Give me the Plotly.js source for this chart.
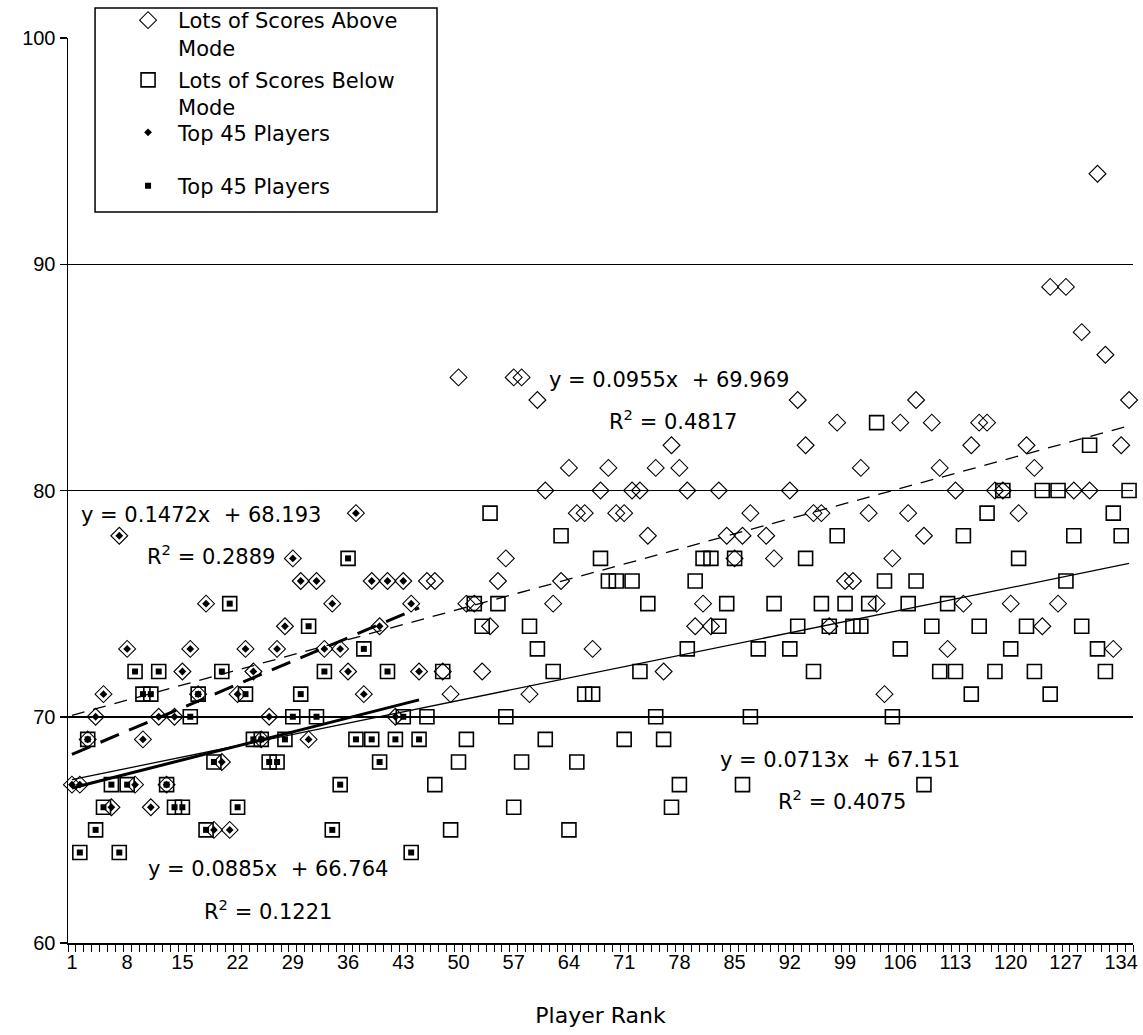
<!DOCTYPE html>
<html>
<head>
<meta charset="utf-8">
<script src="https://cdn.plot.ly/plotly-3.0.1.min.js"></script>
<style>html,body{margin:0;padding:0;background:#fff;}#chart{width:1143px;height:1035px;}</style>
</head>
<body>
<div id="chart"></div>
<script>
// Player rank categories 1..135
const rankCount = 135;
const ranks = [];
for (let i = 1; i <= rankCount; i++) ranks.push(i);

// Scores, one per rank (null = not read)
const aboveScore = [
  67,67,69,70,71,66,78,73,67,69,
  66,70,67,70,72,73,71,75,65,68,
  65,71,73,72,69,70,73,74,77,76,
  69,76,73,75,73,72,79,71,76,74,
  76,70,76,75,72,76,76,72,71,85,
  75,75,72,74,76,77,85,85,71,84,
  80,75,76,81,79,79,73,80,81,79,
  79,80,80,78,81,72,82,81,80,74,
  75,74,80,78,77,78,79,null,78,77,
  null,80,84,82,79,79,74,83,76,76,
  81,79,75,71,77,83,79,84,78,83,
  81,73,80,75,82,83,83,80,80,75,
  79,82,81,74,89,75,89,80,87,80,
  94,86,73,82,84
];
const belowScore = [
  null,64,69,65,66,67,64,67,72,71,
  71,72,67,66,66,70,71,65,68,72,
  75,66,71,69,69,68,68,69,70,71,
  74,70,72,65,67,77,69,73,69,68,
  72,69,70,64,69,70,67,72,65,68,
  69,75,74,79,75,70,66,68,74,73,
  69,72,78,65,68,71,71,77,76,76,
  69,76,72,75,70,69,66,67,73,76,
  77,77,74,75,77,67,70,73,null,75,
  null,73,74,77,72,75,74,78,75,74,
  74,75,83,76,70,73,75,76,67,74,
  72,75,72,78,71,74,79,72,80,73,
  77,74,72,80,71,80,76,78,74,82,
  73,72,79,78,80
];
const topCount = 45;
const topRanks = ranks.slice(0, topCount);
const topAbove = aboveScore.slice(0, topCount);
const topBelow = belowScore.slice(0, topCount);

// Linear trendlines (Excel): slope, intercept, R^2, x-range
const fitSlope = [0.0955, 0.0713, 0.1472, 0.0885];
const fitIntercept = [69.969, 67.151, 68.193, 66.764];
const fitR2 = ['0.4817', '0.4075', '0.2889', '0.1221'];
const fitEqText = ['y = 0.0955x  + 69.969', 'y = 0.0713x  + 67.151', 'y = 0.1472x  + 68.193', 'y = 0.0885x  + 66.764'];
const fitStart = [1, 1, 1, 1];
const fitEnd = [135, 135, 45, 45];

// x tick labels
const xTickVals = [1,8,15,22,29,36,43,50,57,64,71,78,85,92,99,106,113,120,127,134];
const xTickText = xTickVals.map(String);

const FONT = 'Liberation Sans, Arial, sans-serif';
const WFONT = 'DejaVu Sans, Verdana, sans-serif';

function fitLine(i) {
  const xs = [fitStart[i], fitEnd[i]];
  return { xs: xs, ys: xs.map(x => fitSlope[i] * x + fitIntercept[i]) };
}

const lineStyles = [
  {width: 1.3, dash: '13px,9px'},
  {width: 1.3, dash: 'solid'},
  {width: 3, dash: '20px,11px'},
  {width: 3, dash: 'solid'}
];

const traces = [];
traces.push({
  x: ranks, y: aboveScore, type: 'scatter', mode: 'markers',
  name: 'Lots of Scores Above<br>Mode', legend: 'legend',
  marker: {symbol: 'diamond-open', size: 13, color: '#000', line: {width: 1.1, color: '#000'}},
  cliponaxis: false
});
traces.push({
  x: ranks, y: belowScore, type: 'scatter', mode: 'markers',
  name: 'Lots of Scores Below<br>Mode', legend: 'legend2',
  marker: {symbol: 'square-open', size: 14, color: '#000', line: {width: 1.6, color: '#000'}},
  cliponaxis: false
});
traces.push({
  x: topRanks, y: topAbove, type: 'scatter', mode: 'markers',
  name: 'Top 45 Players', legend: 'legend3',
  marker: {symbol: 'diamond', size: 6, color: '#000'}
});
traces.push({
  x: topRanks, y: topBelow, type: 'scatter', mode: 'markers',
  name: 'Top 45 Players', legend: 'legend4',
  marker: {symbol: 'square', size: 6, color: '#000'}
});
for (let i = 0; i < 4; i++) {
  const f = fitLine(i);
  traces.push({
    x: f.xs, y: f.ys, type: 'scatter', mode: 'lines', showlegend: false,
    hoverinfo: 'skip',
    line: {color: '#000', width: lineStyles[i].width, dash: lineStyles[i].dash}
  });
}

// equation label placement (data coords)
const eqPos = [
  {x: 76.7, y: 84.9, rx: 77.2, ry: 83.1},
  {x: 98.3, y: 68.1, rx: 98.6, ry: 66.3},
  {x: 17.4, y: 78.9, rx: 18.6, ry: 77.15},
  {x: 25.9, y: 63.25, rx: 25.9, ry: 61.45}
];
const annotations = [];
for (let i = 0; i < 4; i++) {
  annotations.push({x: eqPos[i].x, y: eqPos[i].y, xref: 'x', yref: 'y', text: fitEqText[i],
    showarrow: false, font: {family: WFONT, size: 21, color: '#000'}, xanchor: 'center', yanchor: 'middle'});
  annotations.push({x: eqPos[i].rx, y: eqPos[i].ry, xref: 'x', yref: 'y', text: 'R<sup>2</sup> = ' + fitR2[i],
    showarrow: false, font: {family: WFONT, size: 21, color: '#000'}, xanchor: 'center', yanchor: 'middle'});
}

function legendBox(ytop) {
  return {
    x: 0.047, y: ytop, xanchor: 'left', yanchor: 'top',
    bgcolor: 'rgba(0,0,0,0)', borderwidth: 0, itemwidth: 50, valign: 'top',
    font: {family: WFONT, size: 21, color: '#000'}
  };
}

const layout = {
  width: 1143, height: 1035,
  margin: {l: 68, r: 10, t: 38, b: 92, autoexpand: false},
  paper_bgcolor: '#fff', plot_bgcolor: '#fff',
  font: {family: FONT, size: 20, color: '#000'},
  showlegend: true,
  legend: legendBox(1.042),
  legend2: legendBox(0.976),
  legend3: legendBox(0.918),
  legend4: legendBox(0.859),
  shapes: [{
    type: 'rect', xref: 'paper', yref: 'paper',
    x0: 0.0254, x1: 0.3465, y0: 0.8077, y1: 1.0331,
    fillcolor: '#fff', line: {color: '#000', width: 1.5}, layer: 'above'
  }],
  xaxis: {
    range: [0.5, rankCount + 0.5],
    tickmode: 'array', tickvals: xTickVals, ticktext: xTickText,
    ticks: '', showgrid: false, zeroline: false,
    showline: true, linecolor: '#000', linewidth: 1.5,
    tickfont: {family: FONT, size: 20, color: '#000'},
    minor: {ticks: 'outside', tick0: 0.5, dtick: 1, ticklen: 7, tickcolor: '#000', tickwidth: 1, showgrid: false},
    title: {text: 'Player Rank', font: {family: WFONT, size: 22, color: '#000'}, standoff: 36}
  },
  yaxis: {
    range: [60, 100], dtick: 10, tick0: 60,
    ticks: 'outside', ticklen: 7, tickcolor: '#000', tickwidth: 1.5,
    showgrid: true, gridcolor: '#000', gridwidth: 1.5,
    zeroline: false, showline: true, linecolor: '#000', linewidth: 1.5,
    tickfont: {family: FONT, size: 20, color: '#000'}
  },
  annotations: annotations
};

Plotly.newPlot('chart', traces, layout, {displayModeBar: false, staticPlot: true});
</script>
</body>
</html>
